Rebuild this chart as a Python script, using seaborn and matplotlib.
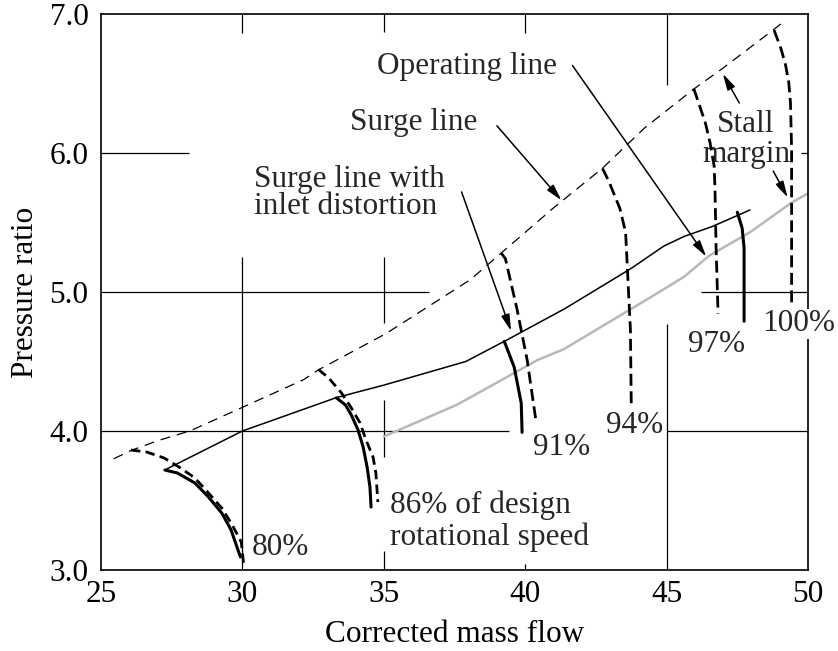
import numpy as np
import pandas as pd
import matplotlib
matplotlib.use("Agg")
import matplotlib.pyplot as plt
import seaborn as sns

# ---------------- data ----------------
x_ticks = [25, 30, 35, 40, 45, 50]
y_ticks = [3.0, 4.0, 5.0, 6.0, 7.0]
x_ticklabels = ["25", "30", "35", "40", "45", "50"]
y_ticklabels = ["3.0", "4.0", "5.0", "6.0", "7.0"]

# surge line (thin dashed)
surge_x = [25.45, 26.06, 27.0, 28.14, 30.0, 32.17, 32.69, 35.07, 38.07, 39.15, 41.03, 42.73, 44.22, 45.96, 46.99, 48.8, 49.05]
surge_y = [3.80, 3.86, 3.93, 4.00, 4.17, 4.37, 4.44, 4.70, 5.09, 5.28, 5.61, 5.89, 6.18, 6.46, 6.61, 6.89, 6.93]

# surge line with inlet distortion (thin solid)
dist_x = [27.26, 30.0, 33.32, 35.0, 37.9, 39.4, 40.4, 41.4, 43.75, 44.9, 45.62, 46.6, 47.95]
dist_y = [3.72, 4.00, 4.24, 4.33, 4.50, 4.66, 4.77, 4.88, 5.17, 5.33, 5.40, 5.47, 5.59]

# operating line (grey)
oper_x = [35.0, 37.6, 40.43, 41.38, 44.5, 45.62, 46.5, 47.95, 49.4, 50.0]
oper_y = [3.96, 4.19, 4.51, 4.59, 4.97, 5.11, 5.26, 5.43, 5.64, 5.71]

# constant speed lines: dashed = clean inlet, solid = inlet distortion
n80_dash_x = [26.06, 26.61, 27.23, 27.81, 28.32, 28.80, 29.27, 29.64, 29.96, 30.04]
n80_dash_y = [3.863, 3.849, 3.806, 3.734, 3.662, 3.554, 3.446, 3.324, 3.201, 3.05]
n80_sol_x = [27.26, 27.70, 28.32, 28.80, 29.27, 29.60, 29.82, 29.93]
n80_sol_y = [3.719, 3.698, 3.626, 3.525, 3.410, 3.288, 3.158, 3.094]

n86_dash_x = [32.69, 33.04, 33.50, 33.85, 34.16, 34.37, 34.62, 34.72, 34.79]
n86_dash_y = [4.442, 4.384, 4.275, 4.167, 4.058, 3.935, 3.813, 3.698, 3.489]
n86_sol_x = [33.32, 33.64, 33.85, 34.09, 34.27, 34.41, 34.51, 34.55]
n86_sol_y = [4.239, 4.188, 4.116, 4.007, 3.885, 3.741, 3.597, 3.453]

n91_dash_x = [39.15, 39.30, 39.71, 40.07, 40.39]
n91_dash_y = [5.28, 5.24, 4.877, 4.51, 4.06]
n91_sol_x = [39.26, 39.61, 39.86, 39.89]
n91_sol_y = [4.645, 4.46, 4.20, 3.99]

n94_dash_x = [42.73, 42.95, 43.35, 43.55, 43.72, 43.75]
n94_dash_y = [5.89, 5.80, 5.60, 5.43, 4.73, 4.20]

n97_dash_x = [45.96, 46.13, 46.37, 46.54, 46.68, 46.71, 46.75, 46.82]
n97_dash_y = [6.464, 6.362, 6.217, 6.071, 5.908, 5.745, 5.319, 4.844]
n97_sol_x = [47.50, 47.67, 47.74, 47.74]
n97_sol_y = [5.574, 5.461, 5.319, 4.79]

n100_dash_x = [48.80, 49.04, 49.21, 49.32, 49.38, 49.42, 49.42, 49.42]
n100_dash_y = [6.884, 6.754, 6.63, 6.507, 6.362, 6.03, 5.553, 4.915]

speed_labels = ["80%", "86% of design\nrotational speed", "91%", "94%", "97%", "100%"]

# ---------------- styling ----------------
sns.set_theme(style="white")
plt.rcParams["font.family"] = ["Liberation Serif", "DejaVu Serif"]

fig = plt.figure(figsize=(8.38, 6.51), dpi=100)
ax = fig.add_axes([101 / 838, 1 - 570 / 651, (808 - 101) / 838, (570 - 14) / 651])

ax.set_xlim(25, 50)
ax.set_ylim(3.0, 7.0)

# partial grid segments as in the reference
gkw = dict(color="black", lw=0.9, zorder=1)
ax.hlines(6.0, 25, 28.1, **gkw)
ax.hlines(5.0, 25, 36.6, **gkw)
ax.hlines(5.0, 46.2, 50, **gkw)
ax.hlines(4.0, 25, 39.43, **gkw)
ax.hlines(4.0, 45, 50, **gkw)
ax.hlines(6.0, 49.75, 50, **gkw)
ax.vlines(30, 3.0, 5.25, **gkw)
ax.vlines(30, 6.86, 7.0, **gkw)
ax.vlines(35, 4.78, 5.255, **gkw)
ax.vlines(35, 3.81, 4.22, **gkw)
ax.vlines(35, 3.0, 3.14, **gkw)
ax.vlines(35, 6.87, 7.0, **gkw)
ax.vlines(40, 6.86, 7.0, **gkw)
ax.vlines(40, 3.0, 3.04, **gkw)
ax.vlines(45, 6.49, 7.0, **gkw)
ax.vlines(45, 3.0, 4.77, **gkw)

def line(x, y, **kw):
    sns.lineplot(x=x, y=y, sort=False, estimator=None, ax=ax, legend=False, **kw)

thin_dash = (0, (8, 5.5))
short_dash = (0, (3.4, 1.9))
long_dash = (0, (4.3, 2.0))

line(oper_x, oper_y, color="#b8b8b8", lw=1.8, zorder=2)
line(surge_x, surge_y, color="black", lw=0.9, linestyle=thin_dash, zorder=3)
line(dist_x, dist_y, color="black", lw=1.1, zorder=3)

for xs, ys in [(n80_dash_x, n80_dash_y), (n86_dash_x, n86_dash_y)]:
    line(xs, ys, color="black", lw=2.0, linestyle=short_dash, zorder=4)
for xs, ys in [(n91_dash_x, n91_dash_y), (n94_dash_x, n94_dash_y),
               (n97_dash_x, n97_dash_y), (n100_dash_x, n100_dash_y)]:
    line(xs, ys, color="black", lw=2.0, linestyle=long_dash, zorder=4)
for xs, ys in [(n80_sol_x, n80_sol_y), (n86_sol_x, n86_sol_y), (n91_sol_x, n91_sol_y),
               (n97_sol_x, n97_sol_y)]:
    line(xs, ys, color="black", lw=2.2, zorder=4)

# axes, ticks, labels
for s in ax.spines.values():
    s.set_color("black")
    s.set_linewidth(1.2)
ax.set_xticks(x_ticks)
ax.set_xticklabels(x_ticklabels)
ax.set_yticks(y_ticks)
ax.set_yticklabels(y_ticklabels)
fs = 22.5
ax.tick_params(axis="both", length=0, labelsize=fs, colors="black")
ax.tick_params(axis="x", pad=7)
ax.tick_params(axis="y", pad=9)
ax.set_xlabel("Corrected mass flow", fontsize=fs, labelpad=8, color="black")
ax.set_ylabel("Pressure ratio", fontsize=fs, labelpad=7, color="black")
ax.grid(False)

ax.text(31.36, 3.16, speed_labels[0], fontsize=fs, ha="center", va="center")
ax.text(35.21, 3.35, speed_labels[1], fontsize=fs, ha="left", va="center", linespacing=1.1)
ax.text(41.28, 3.88, speed_labels[2], fontsize=fs, ha="center", va="center")
ax.text(43.87, 4.04, speed_labels[3], fontsize=fs, ha="center", va="center")
ax.text(46.78, 4.62, speed_labels[4], fontsize=fs, ha="center", va="center")
ax.text(49.66, 4.77, speed_labels[5], fontsize=fs, ha="center", va="center",
        bbox=dict(facecolor="white", edgecolor="none", pad=0.5), zorder=6, clip_on=False)

ax.text(37.93, 6.62, "Operating line", fontsize=fs, ha="center", va="center")
ax.text(36.07, 6.22, "Surge line", fontsize=fs, ha="center", va="center")
ax.text(30.42, 5.71, "Surge line with\ninlet distortion", fontsize=fs, ha="left", va="center",
        linespacing=0.92)
ax.text(47.81, 6.10, "Stall\nmargin", fontsize=fs, ha="center", va="center", linespacing=1.05)

akw = dict(arrowstyle="-|>,head_length=0.7,head_width=0.18", color="black", lw=1.1,
           mutation_scale=14, shrinkA=0, shrinkB=0)
ax.annotate("", xy=(46.40, 5.255), xytext=(41.67, 6.63), arrowprops=akw, zorder=6)
ax.annotate("", xy=(41.28, 5.66), xytext=(39.0, 6.196), arrowprops=akw, zorder=6)
ax.annotate("", xy=(39.5, 4.72), xytext=(37.75, 5.72), arrowprops=akw, zorder=6)
ax.annotate("", xy=(46.99, 6.57), xytext=(47.57, 6.36), arrowprops=akw, zorder=6)
ax.annotate("", xy=(49.28, 5.68), xytext=(48.77, 5.87), arrowprops=akw, zorder=6)

fig.savefig("out.png", dpi=100, facecolor="white")
